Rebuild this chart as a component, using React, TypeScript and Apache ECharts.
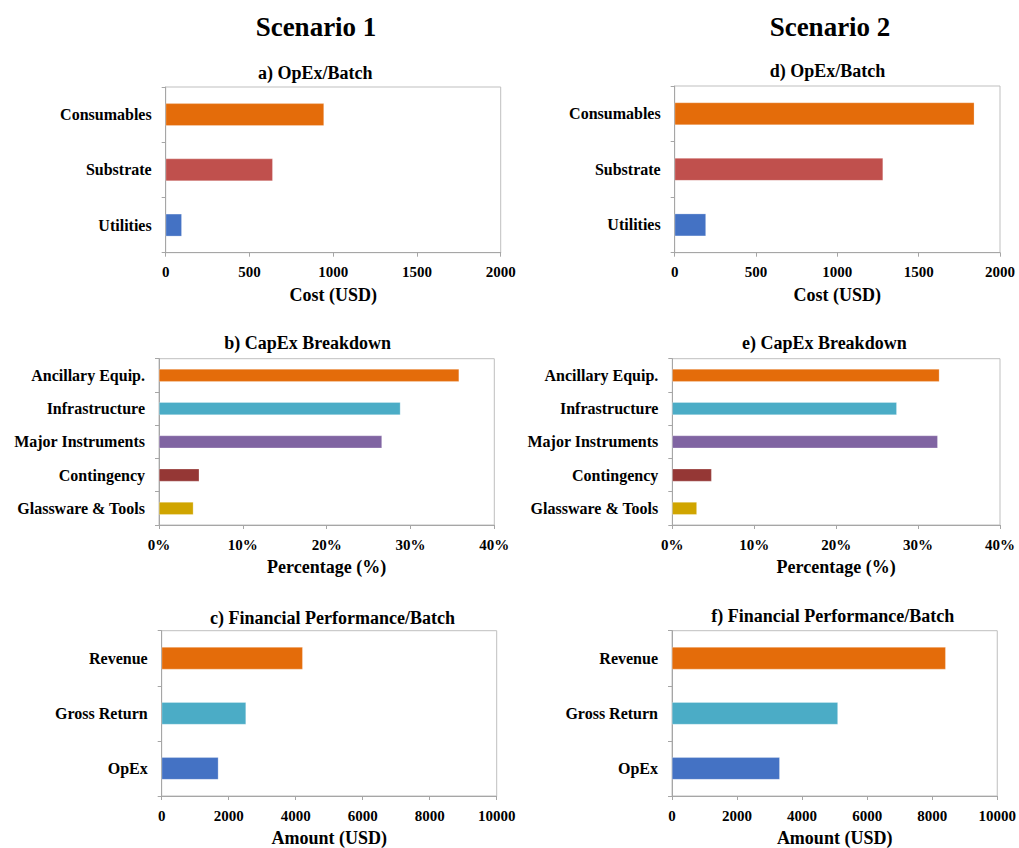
import React, { useEffect, useRef } from "react";
import * as echarts from "echarts";

// ---------- data ----------
const scenarioTitles = ["Scenario 1", "Scenario 2"];
const panelTitles = [
  "a) OpEx/Batch",
  "b) CapEx Breakdown",
  "c) Financial Performance/Batch",
  "d) OpEx/Batch",
  "e) CapEx Breakdown",
  "f) Financial Performance/Batch",
];

const opexCategories = ["Consumables", "Substrate", "Utilities"];
const opexScenario1 = [945, 639, 96];
const opexScenario2 = [1842, 1281, 192];
const opexColors = ["#E46C0A", "#C0504D", "#4472C4"];
const opexTicks = [0, 500, 1000, 1500, 2000];
const opexAxisName = "Cost (USD)";

const capexCategories = [
  "Ancillary Equip.",
  "Infrastructure",
  "Major Instruments",
  "Contingency",
  "Glassware & Tools",
];
const capexScenario1 = [35.8, 28.8, 26.6, 4.8, 4.1];
const capexScenario2 = [32.6, 27.4, 32.4, 4.8, 3.0];
const capexColors = ["#E46C0A", "#4BACC6", "#8064A2", "#953735", "#D0A500"];
const capexTicks = [0, 10, 20, 30, 40];
const capexAxisName = "Percentage (%)";

const finCategories = ["Revenue", "Gross Return", "OpEx"];
const finScenario1 = [4209, 2517, 1692];
const finScenario2 = [8415, 5101, 3313];
const finColors = ["#E46C0A", "#4BACC6", "#4472C4"];
const finTicks = [0, 2000, 4000, 6000, 8000, 10000];
const finAxisName = "Amount (USD)";

// ---------- layout ----------
const FONT = '"Liberation Serif", "Times New Roman", serif';

const panels = [
  { grid: { left: 165.7, top: 87, width: 335, height: 165.7 }, cats: opexCategories, vals: opexScenario1, colors: opexColors, ticks: opexTicks, name: opexAxisName, pct: false, barWidth: 22.5, title: { x: 315.3, y: 72.7 } },
  { grid: { left: 159, top: 358.7, width: 335.3, height: 166.3 }, cats: capexCategories, vals: capexScenario1, colors: capexColors, ticks: capexTicks, name: capexAxisName, pct: true, barWidth: 12.7, title: { x: 307.7, y: 342.7 } },
  { grid: { left: 161.7, top: 630.7, width: 335, height: 166.6 }, cats: finCategories, vals: finScenario1, colors: finColors, ticks: finTicks, name: finAxisName, pct: false, barWidth: 22.3, title: { x: 332.5, y: 618 } },
  { grid: { left: 674.7, top: 86, width: 325.3, height: 166.7 }, cats: opexCategories, vals: opexScenario2, colors: opexColors, ticks: opexTicks, name: opexAxisName, pct: false, barWidth: 22.5, title: { x: 827.5, y: 70.7 } },
  { grid: { left: 672.3, top: 358.7, width: 327.7, height: 166.3 }, cats: capexCategories, vals: capexScenario2, colors: capexColors, ticks: capexTicks, name: capexAxisName, pct: true, barWidth: 12.7, title: { x: 824.3, y: 342.7 } },
  { grid: { left: 672, top: 630.7, width: 328, height: 166.6 }, cats: finCategories, vals: finScenario2, colors: finColors, ticks: finTicks, name: finAxisName, pct: false, barWidth: 22.3, title: { x: 832.7, y: 615.5 } },
];

const scenarioPos = [
  { x: 316, y: 27 },
  { x: 830, y: 27 },
];

export default function App() {
  const ref = useRef<HTMLDivElement>(null);

  useEffect(() => {
    document.body.style.margin = "0";
    if (!ref.current) return;
    const chart = echarts.init(ref.current, null, { renderer: "svg" });

    const grids = panels.map((p) => ({
      ...p.grid,
      show: true,
      borderColor: "#BFBFBF",
      borderWidth: 1,
      backgroundColor: "#fff",
      containLabel: false,
    }));

    const xAxes = panels.map((p, i) => ({
      type: "value",
      gridIndex: i,
      min: p.ticks[0],
      max: p.ticks[p.ticks.length - 1],
      interval: p.ticks[1] - p.ticks[0],
      splitLine: { show: false },
      axisLine: { show: true, lineStyle: { color: "#A6A6A6", width: 1 } },
      axisTick: { show: true, length: 4, lineStyle: { color: "#A6A6A6" } },
      axisLabel: {
        show: true,
        margin: 12,
        color: "#000",
        fontFamily: FONT,
        fontWeight: "bold",
        fontSize: 15,
        formatter: (v: number) => (p.pct ? `${v}%` : String(v)),
      },
      name: p.name,
      nameLocation: "middle",
      nameGap: 33,
      nameTextStyle: { color: "#000", fontFamily: FONT, fontWeight: "bold", fontSize: 18 },
    }));

    const yAxes = panels.map((p, i) => ({
      type: "category",
      gridIndex: i,
      data: p.cats,
      inverse: true,
      axisLine: { show: true, lineStyle: { color: "#A6A6A6", width: 1 } },
      axisTick: { show: true, length: 4, lineStyle: { color: "#A6A6A6" } },
      axisLabel: {
        show: true,
        margin: 14,
        color: "#000",
        fontFamily: FONT,
        fontWeight: "bold",
        fontSize: 16,
      },
    }));

    const series = panels.map((p, i) => ({
      type: "bar",
      xAxisIndex: i,
      yAxisIndex: i,
      barWidth: p.barWidth,
      data: p.vals.map((v, j) => ({
        value: v,
        itemStyle: { color: p.colors[j], borderColor: "rgba(255,255,255,0.5)", borderWidth: 0.5 },
      })),
    }));

    const graphics: any[] = [];
    scenarioTitles.forEach((t, i) => {
      graphics.push({
        type: "text",
        x: scenarioPos[i].x,
        y: scenarioPos[i].y,
        style: {
          text: t,
          fill: "#000",
          font: `bold 27px ${FONT}`,
          align: "center",
          verticalAlign: "middle",
        },
      });
    });
    panels.forEach((p, i) => {
      graphics.push({
        type: "text",
        x: p.title.x,
        y: p.title.y,
        style: {
          text: panelTitles[i],
          fill: "#000",
          font: `bold 18px ${FONT}`,
          align: "center",
          verticalAlign: "middle",
        },
      });
    });

    chart.setOption({
      animation: false,
      backgroundColor: "#fff",
      grid: grids,
      xAxis: xAxes,
      yAxis: yAxes,
      series,
      graphic: graphics,
    });

    return () => chart.dispose();
  }, []);

  return <div ref={ref} style={{ width: 1019, height: 848 }} />;
}
